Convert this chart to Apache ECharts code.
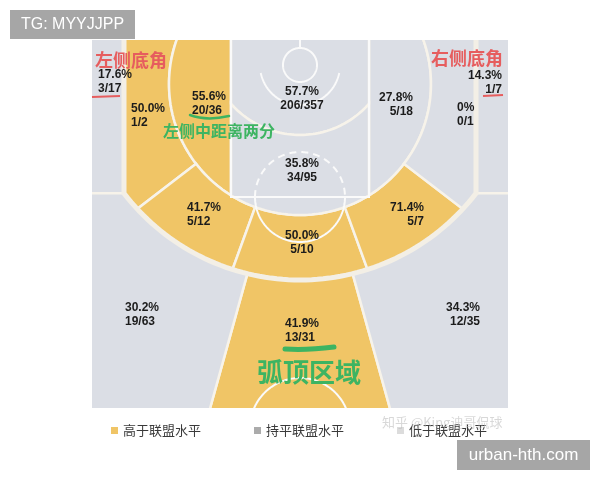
<!DOCTYPE html>
<html><head><meta charset="utf-8">
<script src="https://cdn.jsdelivr.net/npm/echarts@6/dist/echarts.min.js"></script>
<style>html,body{margin:0;padding:0;background:#fff}#c{width:600px;height:480px}</style>
</head><body><div id="c"></div>
<script>
// ---------------- data ----------------
const zoneNames = ['左侧底角三分','右侧底角三分','左侧底线中距离','左侧中距离两分','右侧中距离两分','右侧底线中距离','左侧45°中距离','正面中距离','右侧45°中距离','限制区','油漆区(非限制区)','左侧45°三分','弧顶三分','右侧45°三分'];
const made     = [3, 1, 1, 20, 5, 0, 5, 5, 5, 206, 34, 19, 13, 12];
const attempts = [17, 7, 2, 36, 18, 1, 12, 10, 7, 357, 95, 63, 31, 35];
const pct      = [17.6, 14.3, 50.0, 55.6, 27.8, 0, 41.7, 50.0, 71.4, 57.7, 35.8, 30.2, 41.9, 34.3];
const level    = ['below','below','above','above','below','below','above','above','above','below','below','below','above','below'];
const legendNames = ['高于联盟水平','持平联盟水平','低于联盟水平'];

// ---------------- layout / style ----------------
const COLORS = {above:'#F0C566', equal:'#ABABAB', below:'#DBDEE5'};
const LEGEND_ICON = {above:'#F0C566', equal:'#ABABAB', below:'#DCDCDC'};
const G = {L:92,R:508,T:40,B:408,cx:300,laneL:231,laneR:369,ft:197,cornerX:124,pad:5,
  c16:{x:300,y:84,r:131}, c8:{x:300,y:43,r:92}, c3:{x:300,y:58,r:222},
  aUp:142.5, aLow:110, a3:105.5};
// label anchor: [x, y, align]
const labelPos = [[98,82,'left'],[502,82.5,'right'],[131,115.5,'left'],[192,104,'left'],[413,104.5,'right'],[457,114.5,'left'],
  [187,215,'left'],[302,242.5,'center'],[424,215,'right'],[302,98.5,'center'],[302,170.5,'center'],
  [125,315,'left'],[285,331,'left'],[480,315,'right']];

const D = Math.PI/180;
const Lo=G.L-G.pad, Ro=G.R+G.pad, To=G.T-G.pad, Bo=G.B+G.pad;
function pt(c,a){return [c.x+c.r*Math.cos(a*D), c.y+c.r*Math.sin(a*D)];}
function arc(c,a0,a1){const n=Math.max(6,Math.ceil(Math.abs(a1-a0)/1.5));const o=[];for(let i=0;i<=n;i++)o.push(pt(c,a0+(a1-a0)*i/n));return o;}
function c3AngleOfRay(a){
  const c=G.c16,k=G.c3,ux=Math.cos(a*D),uy=Math.sin(a*D);
  const dx=c.x-k.x,dy=c.y-k.y,b=ux*dx+uy*dy,cc=dx*dx+dy*dy-k.r*k.r;
  const t=-b+Math.sqrt(b*b-cc);const p=[c.x+t*ux,c.y+t*uy];
  return Math.atan2(p[1]-k.y,p[0]-k.x)/D;
}
function rayAtY(a,y){const c=G.c16;const t=(y-c.y)/Math.sin(a*D);return [c.x+t*Math.cos(a*D),y];}
const m = a => 180-a;
const mp = p => [2*G.cx-p[0],p[1]];
const mirror = poly => poly.map(mp);
const a16Top = 180 - Math.asin((To-G.c16.y)/G.c16.r)/D;
const a16Lane = Math.acos((G.laneL-G.c16.x)/G.c16.r)/D;
const a8Lane = Math.acos((G.laneL-G.c8.x)/G.c8.r)/D;
const a3Corner = Math.acos((G.cornerX-G.c3.x)/G.c3.r)/D;
const yCorner = G.c3.y+G.c3.r*Math.sin(a3Corner*D);

const corner3L = [[Lo,To],[G.cornerX,To],[G.cornerX,yCorner],[Lo,yCorner]];
const cornerMidL = [[G.cornerX,To],...arc(G.c16,a16Top,G.aUp),...arc(G.c3,c3AngleOfRay(G.aUp),a3Corner)];
const shortMidL = [...arc(G.c16,a16Top,a16Lane),[G.laneL,To]];
const wingMidL = [...arc(G.c16,G.aUp,G.aLow),...arc(G.c3,c3AngleOfRay(G.aLow),c3AngleOfRay(G.aUp))];
const centerMid = [...arc(G.c16,G.aLow,m(G.aLow)),...arc(G.c3,c3AngleOfRay(m(G.aLow)),c3AngleOfRay(G.aLow))];
const ra = [[G.laneL,To],...arc(G.c8,a8Lane,m(a8Lane)),[G.laneR,To]];
const paint = [...arc(G.c8,a8Lane,m(a8Lane)),...arc(G.c16,m(a16Lane),a16Lane)];
const wing3L = [[Lo,yCorner],...arc(G.c3,a3Corner,c3AngleOfRay(G.a3)),rayAtY(G.a3,Bo),[Lo,Bo]];
const center3 = [...arc(G.c3,c3AngleOfRay(G.a3),c3AngleOfRay(m(G.a3))),rayAtY(m(G.a3),Bo),rayAtY(G.a3,Bo)];
const zonePolys = [corner3L,mirror(corner3L),cornerMidL,shortMidL,mirror(shortMidL),mirror(cornerMidL),
  wingMidL,centerMid,mirror(wingMidL),ra,paint,wing3L,center3,mirror(wing3L)];

const threeLine = [[G.cornerX,To],[G.cornerX,yCorner],...arc(G.c3,a3Corner,m(a3Corner)),[2*G.cx-G.cornerX,yCorner],[2*G.cx-G.cornerX,To]];
const ftC={x:300,y:197,r:45}, raC={x:300,y:65,r:40}, rimC={x:300,y:65,r:17}, midC={x:300,y:428,r:50};

const fmtPct = v => v===0 ? '0%' : v.toFixed(1)+'%';

const chart = echarts.init(document.getElementById('c'));

function zoneSeries(key,idx){
  return {
    type:'custom', name:legendNames[idx], coordinateSystem:'cartesian2d', z:2, clip:true,
    itemStyle:{color:LEGEND_ICON[key]},
    data: zoneNames.map((n,i)=>({name:n,value:[i]})).filter(d=>level[d.value[0]]===key),
    renderItem:(params,api)=>{
      const i=api.value(0);
      return {type:'polygon',shape:{points:zonePolys[i].map(p=>api.coord(p))},
        style:{fill:COLORS[key],stroke:'#F7F3EA',lineWidth:2.5}};
    }
  };
}

const WHITE='#FAFAFA';
function poly(api,pts,style){return {type:'polyline',shape:{points:pts.map(p=>api.coord(p))},style:Object.assign({fill:null},style)};}

const courtSeries = {
  type:'custom', name:'court', z:3, silent:true, clip:true, data:[[0]],
  renderItem:(params,api)=>({type:'group',children:[
    poly(api,[[G.laneL,To],[G.laneL,G.ft],[G.laneR,G.ft],[G.laneR,To]],{stroke:WHITE,lineWidth:2}),
    poly(api,arc(ftC,180,360),{stroke:WHITE,lineWidth:2,lineDash:[7,5]}),
    poly(api,arc(ftC,0,180),{stroke:WHITE,lineWidth:2}),
    poly(api,arc(raC,11.5,168.5),{stroke:WHITE,lineWidth:2}),
    poly(api,arc(rimC,0,360),{stroke:WHITE,lineWidth:2}),
    poly(api,[[300,To],[300,48]],{stroke:WHITE,lineWidth:2}),
    poly(api,arc(midC,195,345),{stroke:WHITE,lineWidth:2}),
    poly(api,threeLine,{stroke:'#F3EFE6',lineWidth:5})
  ]})
};

const labelSeries = {
  type:'custom', name:'labels', z:4, silent:true,
  data: zoneNames.map((n,i)=>({name:n,value:[i]})),
  renderItem:(params,api)=>{
    const i=api.value(0), lp=labelPos[i], p=api.coord([lp[0],lp[1]]);
    return {type:'text',x:p[0],y:p[1],style:{text:fmtPct(pct[i])+'\n'+made[i]+'/'+attempts[i],
      fill:'#1c1c1c',font:'bold 12px "Liberation Sans", Arial, sans-serif',lineHeight:14,
      align:lp[2],verticalAlign:'middle',textAlign:lp[2],textVerticalAlign:'middle'}};
  }
};

function txt(x,y,text,font,fill,align){
  return {type:'text',x:x,y:y,z:100,style:{text:text,font:font,fill:fill,align:align||'left',verticalAlign:'middle',textAlign:align||'left',textVerticalAlign:'middle'}};
}
const CJK='"Noto Sans CJK SC", sans-serif';
const RED='#E65D5E', GREEN='#3DB462';

chart.setOption({
  animation:false,
  grid:{left:G.L,top:G.T,width:G.R-G.L,height:G.B-G.T},
  xAxis:{type:'value',min:G.L,max:G.R,show:false},
  yAxis:{type:'value',min:G.T,max:G.B,inverse:true,show:false},
  legend:{data:legendNames,left:111,top:424,padding:0,itemWidth:7,itemHeight:7,itemGap:53,icon:'rect',selectedMode:false,
    textStyle:{fontSize:13,color:'#3a3a3a',fontFamily:'Noto Sans CJK SC'}},
  graphic:[
    txt(95,60,'左侧底角','bold 18px '+CJK,RED,'left'),
    txt(503,58,'右侧底角','bold 18px '+CJK,RED,'right'),
    {type:'line',z:100,shape:{x1:92,y1:97,x2:120,y2:96},style:{stroke:RED,lineWidth:2}},
    {type:'line',z:100,shape:{x1:483,y1:96,x2:503,y2:95},style:{stroke:RED,lineWidth:2}},
    txt(163,131,'左侧中距离两分','bold 16px '+CJK,GREEN,'left'),
    {type:'bezierCurve',z:100,shape:{x1:190,y1:115,x2:229,y2:116,cpx1:203,cpy1:120,cpx2:216,cpy2:119},style:{stroke:GREEN,lineWidth:2.5,fill:null,lineCap:'round'}},
    txt(257,372,'弧顶区域','bold 26px '+CJK,GREEN,'left'),
    {type:'bezierCurve',z:100,shape:{x1:285,y1:349,x2:334,y2:347,cpx1:300,cpy1:350,cpx2:318,cpy2:349},style:{stroke:GREEN,lineWidth:5,fill:null,lineCap:'round'}},
    txt(382,422,'知乎 @King迪哥侃球','13px '+CJK,'rgba(190,190,190,0.6)','left'),
    {type:'rect',z:100,shape:{x:10,y:10,width:125,height:29},style:{fill:'#A6A6A6'}},
    txt(72.5,24.5,'TG: MYYJJPP','16px "Liberation Sans", Arial, sans-serif','#ffffff','center'),
    {type:'rect',z:100,shape:{x:457,y:440,width:133,height:30},style:{fill:'#A6A6A6'}},
    txt(523.5,455,'urban-hth.com','17px "Liberation Sans", Arial, sans-serif','#ffffff','center')
  ],
  series:[zoneSeries('above',0),zoneSeries('equal',1),zoneSeries('below',2),courtSeries,labelSeries]
});
</script></body></html>
